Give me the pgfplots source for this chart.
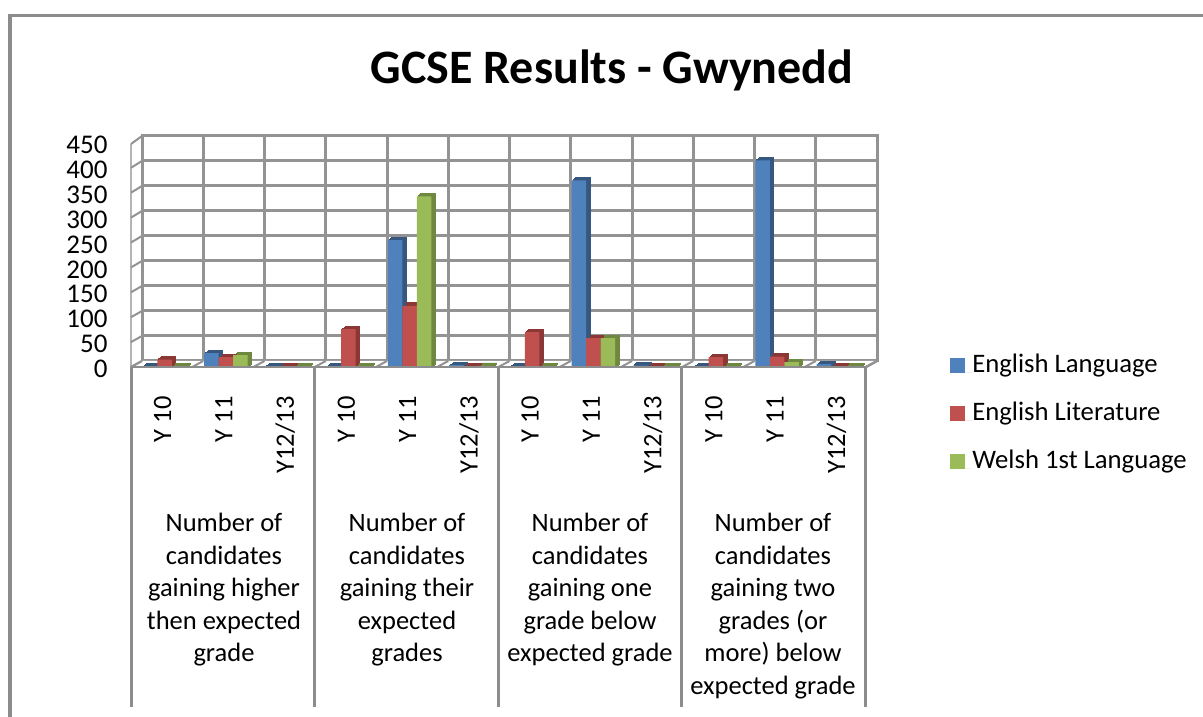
\documentclass[border=0pt]{standalone}
\usepackage{pgfplots}
\usepackage{pgfplotstable}
\usepackage{fontspec}
\setmainfont{Carlito}
\pgfplotsset{compat=1.18}
\definecolor{cb}{HTML}{4F81BD}
\definecolor{cr}{HTML}{C0504D}
\definecolor{cg}{HTML}{9BBB59}
\definecolor{db}{HTML}{36587F}
\definecolor{dr}{HTML}{8A3735}
\definecolor{dg}{HTML}{6F8840}
\definecolor{gl}{HTML}{939393}
\definecolor{fr}{HTML}{8C8C8C}
\pgfplotstableread{
idx el lit wel
0 1 15 1
1 28 20 24
2 1 1 1
3 1 76 1
4 255 123 343
5 4 1 2
6 1 70 1
7 375 58 58
8 3 1 1
9 1 20 1
10 415 21 10
11 6 1 1
}\gcse
\pgfplotsset{
  base/.style={scale only axis,width=735pt,height=224pt,xmin=-0.5,xmax=11.5,ymin=0,ymax=450,clip=false},
}
\newcommand{\sidebars}[2]{%
\begin{axis}[base,hide axis,at={(#1,#2)},anchor=south west,ybar,bar width=14.5pt]
\addplot[fill=db,draw=db,line width=0.8pt,bar shift=-11.5pt] table[x=idx,y=el]{\gcse};
\addplot[fill=dr,draw=dr,line width=0.8pt,bar shift=3pt] table[x=idx,y=lit]{\gcse};
\addplot[fill=dg,draw=dg,line width=0.8pt,bar shift=17.5pt] table[x=idx,y=wel]{\gcse};
\end{axis}}
\begin{document}
\begin{tikzpicture}[x=1pt,y=1pt]
\useasboundingbox (0,0) rectangle (1203,717);
\fill[white] (0,0) rectangle (1203,717);
% outer frame
\draw[fr,line width=3.5pt] (10,0) -- (10,701.5) -- (1203,701.5);
\node[font=\bfseries\fontsize{48}{52}\selectfont] at (612,647) {GCSE Results - Gwynedd};
% back wall
\begin{axis}[at={(142pt,356pt)},anchor=south west,scale only axis,width=735pt,height=225pt,
  xmin=0,xmax=12,ymin=0,ymax=450,xtick={0,...,12},ytick={0,50,...,450},
  xticklabels={},yticklabels={},grid=major,major tick length=0pt,
  grid style={gl,line width=3pt},axis line style={gl,line width=3pt}]
\end{axis}
% side wall and floor
\fill[white] (131,350) -- (142,356) -- (877,356) -- (866,350) -- cycle;
\draw[gl!70,line width=2.2pt] (131,350) -- (131,573);
\draw[gl,line width=2pt] (131,573) -- (142,581);
\foreach \k in {0,...,8} {
  \draw[gl,line width=2pt] (131,{350+\k*24.9}) -- (142,{356+\k*25});
}
\foreach \k in {0,...,12} {
  \draw[gl,line width=2pt] ({131+\k*61.25},350) -- ({142+\k*61.25},356);
}
\draw[gl,line width=2.4pt] (866,350) -- (877,356);
% bars, side faces then fronts
\sidebars{132.5pt}{351pt}
\sidebars{134pt}{352pt}
\sidebars{135pt}{353pt}
\begin{axis}[base,at={(131pt,350pt)},anchor=south west,ybar,bar width=14.5pt,
  axis line style={draw=none},major tick length=0pt,
  ytick={0,50,...,450},
  xtick={0,...,11},
  xticklabels={Y 10,Y 11,Y12/13,Y 10,Y 11,Y12/13,Y 10,Y 11,Y12/13,Y 10,Y 11,Y12/13},
  x tick label style={rotate=90,anchor=east,font=\fontsize{26.5}{28}\selectfont,xshift=-26pt,yshift=-1pt},
  y tick label style={font=\fontsize{27}{28}\selectfont,xshift=-20pt,yshift=-2pt},
  /pgf/number format/assume math mode=true,
  legend cell align=left,
  legend style={draw=none,fill=none,at={(1.1145,-0.213)},anchor=west,inner sep=0pt,
    font=\fontsize{26.7}{28}\selectfont,/tikz/row sep=24pt,
    /tikz/nodes={inner sep=0pt,anchor=base west,text height=18pt,text depth=6pt}},
  legend image code/.code={\path[#1,draw=none] (0pt,0pt) rectangle (15pt,15pt);\path (0pt,0pt) -- (22pt,0pt);}]
\addplot[fill=cb,draw=none,bar shift=-11.5pt] table[x=idx,y=el]{\gcse};
\addplot[fill=cr,draw=none,bar shift=3pt] table[x=idx,y=lit]{\gcse};
\addplot[fill=cg,draw=none,bar shift=17.5pt] table[x=idx,y=wel]{\gcse};
\legend{English Language,English Literature,Welsh 1st Language}
\end{axis}
% multi-level axis
\draw[fr,line width=2.6pt] (131,350) -- (866,350);
\foreach \x in {131,314.75,498,681.5,865} {
  \draw[fr,line width=3pt] (\x,350) -- (\x,10);
}
\begin{scope}[every node/.style={anchor=north,align=center,font=\fontsize{26.5}{32.5}\selectfont}]
\node at (224,207) {Number of\\candidates\\gaining higher\\then expected\\grade};
\node at (407,207) {Number of\\candidates\\gaining their\\expected\\grades};
\node at (590,207) {Number of\\candidates\\gaining one\\grade below\\expected grade};
\node at (773,207) {Number of\\candidates\\gaining two\\grades (or\\more) below\\expected grade};
\end{scope}
\end{tikzpicture}
\end{document}
